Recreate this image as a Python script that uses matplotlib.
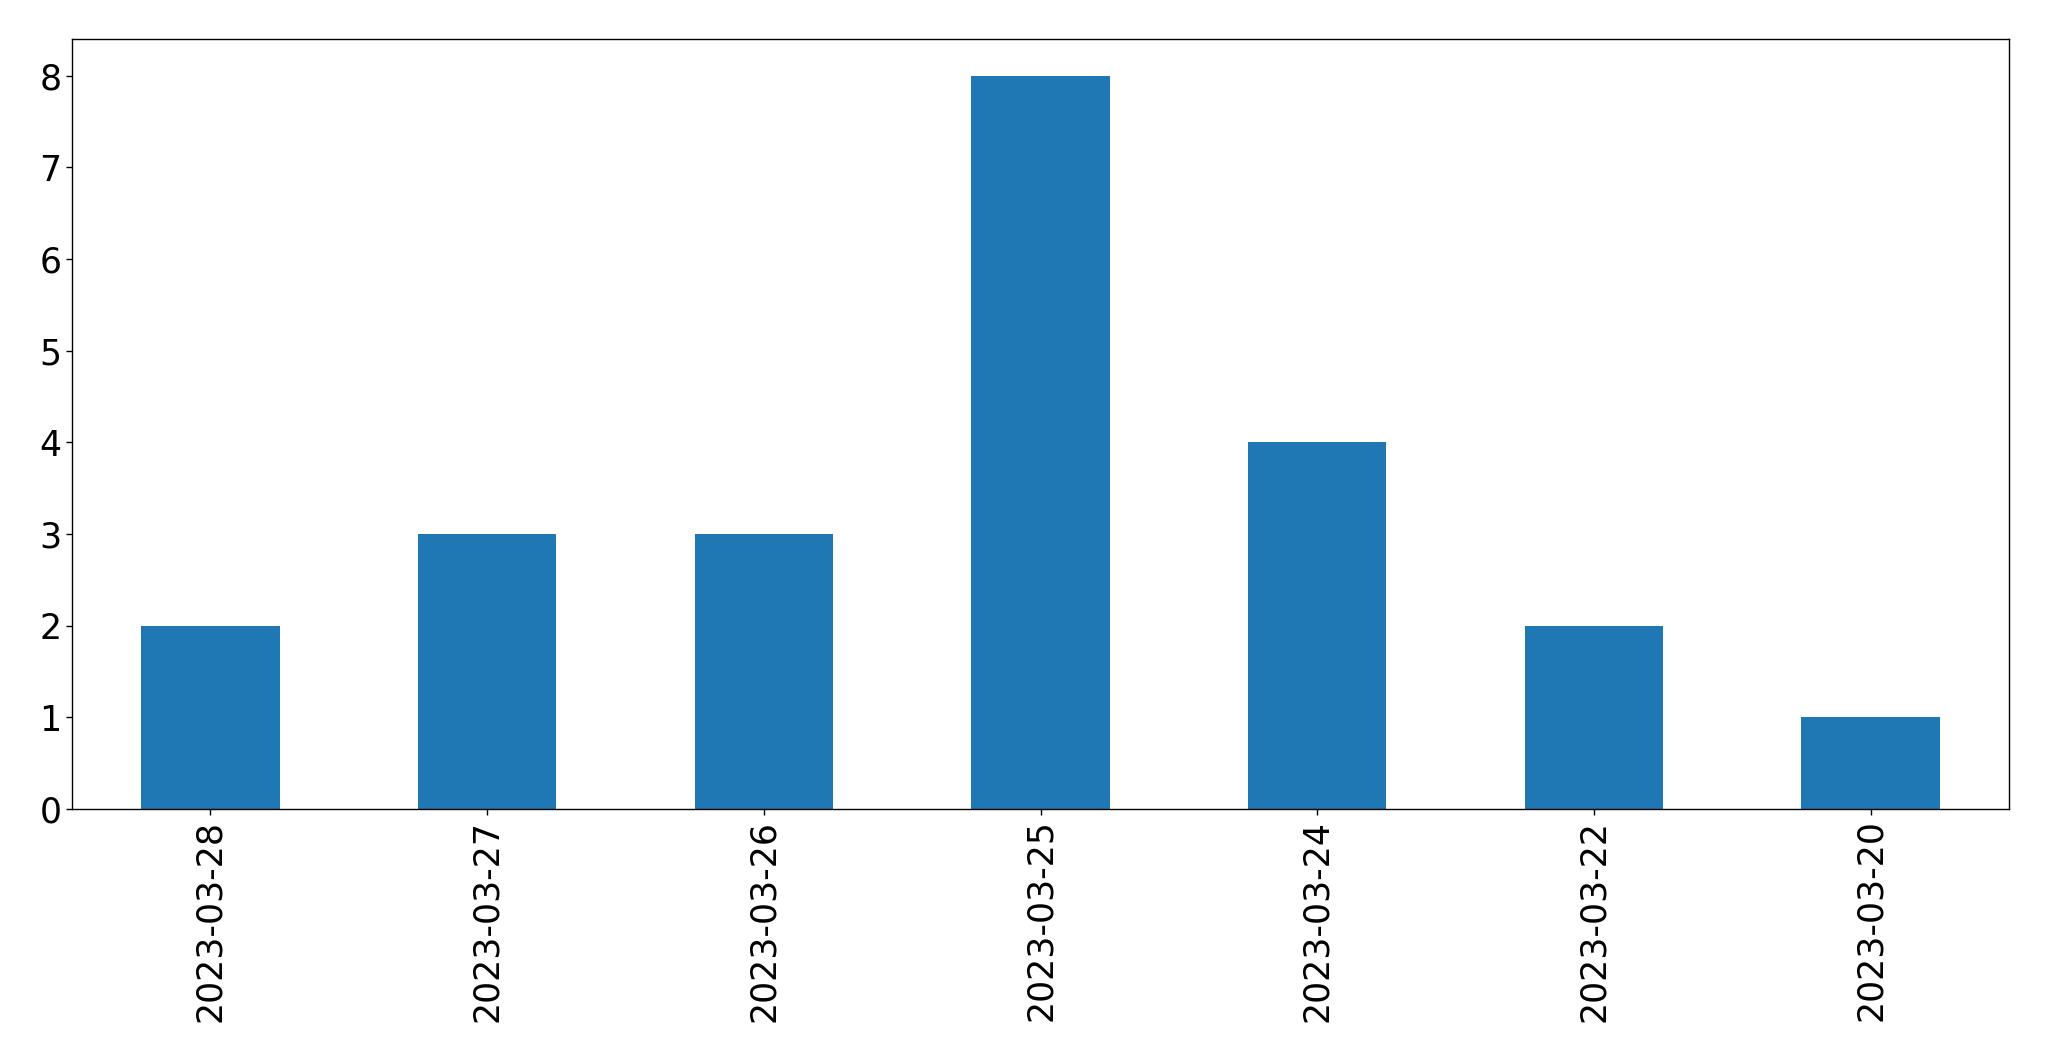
import matplotlib
matplotlib.use("Agg")
import matplotlib.pyplot as plt

dates = ["2023-03-28", "2023-03-27", "2023-03-26", "2023-03-25", "2023-03-24", "2023-03-22", "2023-03-20"]
counts = [2, 3, 3, 8, 4, 2, 1]

fig = plt.figure(figsize=(20.49, 10.61), dpi=100)
ax = fig.add_axes([72/2049, 1 - 809/1061, (2009-72)/2049, (809-39)/1061])
x = list(range(len(dates)))
ax.bar(x, counts, width=0.5, color="#1f77b4")
ax.set_xticks(x)
ax.set_xticklabels(dates, rotation=90)
ax.set_xlim(-0.5, len(dates) - 0.5)
ax.set_ylim(0, 8.4)
ax.tick_params(labelsize=25, length=4.1, width=1)
for s in ax.spines.values():
    s.set_linewidth(1)
fig.savefig("out.png", dpi=100)
